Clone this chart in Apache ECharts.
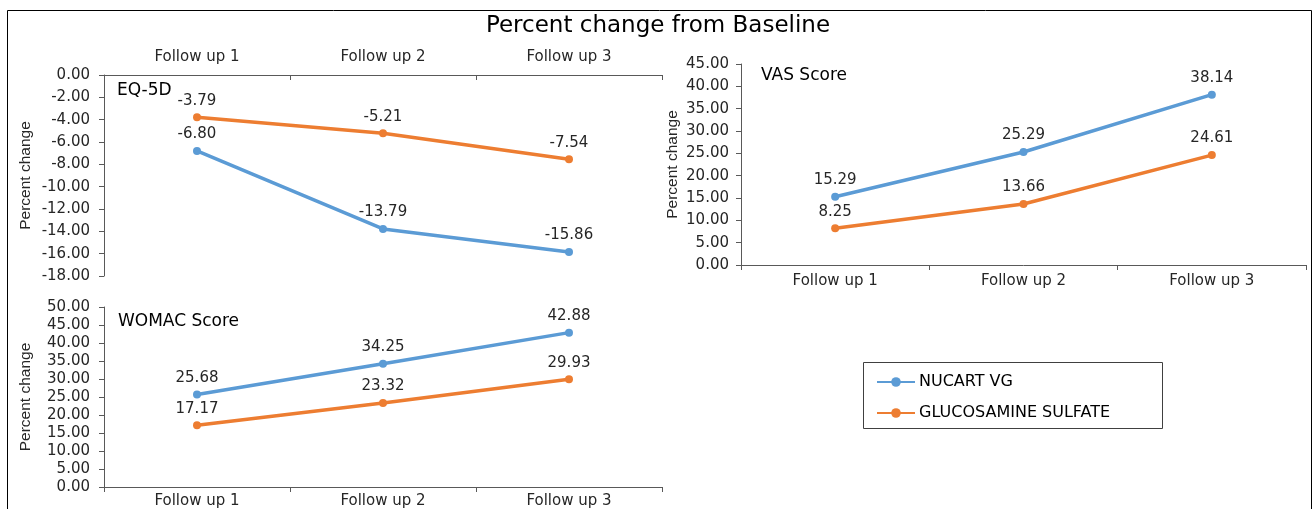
<!DOCTYPE html>
<html>
<head>
<meta charset="utf-8">
<script src="https://cdn.jsdelivr.net/npm/echarts@6/dist/echarts.min.js"></script>
<style>
html,body{margin:0;padding:0;background:#fff;}
#chart{width:1316px;height:509px;}
</style>
</head>
<body>
<div id="chart"></div>
<script>
const categories = ['Follow up 1', 'Follow up 2', 'Follow up 3'];
const seriesNames = ['NUCART VG', 'GLUCOSAMINE SULFATE'];
const eqNucart = [-6.80, -13.79, -15.86];
const eqGluco = [-3.79, -5.21, -7.54];
const vasNucart = [15.29, 25.29, 38.14];
const vasGluco = [8.25, 13.66, 24.61];
const womacNucart = [25.68, 34.25, 42.88];
const womacGluco = [17.17, 23.32, 29.93];
const panelTitles = ['EQ-5D', 'VAS Score', 'WOMAC Score'];
const mainTitle = 'Percent change from Baseline';
const yName = 'Percent change';

const BLUE = '#5B9BD5', ORANGE = '#ED7D31';
const TXT = '#262626';
const AX = '#595959';
const FONT = '"DejaVu Sans", sans-serif';

function xAx(gridIndex, pos, inside, margin) {
  return {
    type: 'category', gridIndex: gridIndex, data: categories, position: pos,
    boundaryGap: true,
    axisLine: { onZero: false, lineStyle: { color: AX, width: 1 } },
    axisTick: { show: true, inside: inside, length: 5, alignWithLabel: false, lineStyle: { color: AX } },
    axisLabel: { color: TXT, fontFamily: FONT, fontSize: 15, margin: margin },
    splitLine: { show: false }
  };
}
function yAx(gridIndex, min, max, interval, margin, gap) {
  return {
    type: 'value', gridIndex: gridIndex, min: min, max: max, interval: interval,
    name: yName, nameLocation: 'middle', nameGap: gap, nameRotate: 90,
    nameTextStyle: { color: TXT, fontFamily: '"Liberation Sans", Arial, sans-serif', fontSize: 15.5 },
    axisLine: { show: true, lineStyle: { color: AX, width: 1 } },
    axisTick: { show: true, length: 5, lineStyle: { color: AX } },
    axisLabel: { color: TXT, fontFamily: FONT, fontSize: 15, margin: margin,
      formatter: function (v) { return v.toFixed(2); } },
    splitLine: { show: false }
  };
}
function ser(name, data, color, idx) {
  return {
    name: name, type: 'line', data: data, xAxisIndex: idx, yAxisIndex: idx,
    symbol: 'circle', symbolSize: 8,
    lineStyle: { color: color, width: 3.5 },
    itemStyle: { color: color },
    label: { show: true, position: 'top', distance: 5, color: TXT, fontFamily: FONT, fontSize: 15,
      formatter: function (p) { return p.value.toFixed(2); } },
    emphasis: { disabled: true },
    animation: false
  };
}

const chart = echarts.init(document.getElementById('chart'));
chart.setOption({
  backgroundColor: '#fff',
  animation: false,
  title: [
    { text: mainTitle, left: 'center', top: 10, textStyle: { fontFamily: FONT, fontSize: 23, fontWeight: 'normal', color: '#000' } },
    { text: panelTitles[0], left: 112, top: 77, textStyle: { fontFamily: FONT, fontSize: 17, fontWeight: 'normal', color: '#000' } },
    { text: panelTitles[1], left: 756, top: 62, textStyle: { fontFamily: FONT, fontSize: 17, fontWeight: 'normal', color: '#000' } },
    { text: panelTitles[2], left: 113, top: 308, textStyle: { fontFamily: FONT, fontSize: 17, fontWeight: 'normal', color: '#000' } }
  ],
  legend: {
    data: seriesNames, orient: 'vertical', left: 876, top: 374, padding: 0,
    itemWidth: 38, itemHeight: 12, itemGap: 15,
    textStyle: { color: '#000', fontFamily: FONT, fontSize: 16, padding: [0, 0, 0, -1] }
  },
  grid: [
    { left: 104, top: 75, width: 558, height: 201 },
    { left: 741, top: 64, width: 565, height: 201 },
    { left: 104, top: 307, width: 558, height: 180 }
  ],
  xAxis: [xAx(0, 'top', true, 10), xAx(1, 'bottom', false, 9), xAx(2, 'bottom', false, 7)],
  yAxis: [yAx(0, -18, 0, 2, 14, 70), yAx(1, 0, 45, 5, 12, 60), yAx(2, 0, 50, 5, 14, 70)],
  series: [
    ser(seriesNames[0], eqNucart, BLUE, 0),
    ser(seriesNames[1], eqGluco, ORANGE, 0),
    ser(seriesNames[0], vasNucart, BLUE, 1),
    ser(seriesNames[1], vasGluco, ORANGE, 1),
    ser(seriesNames[0], womacNucart, BLUE, 2),
    ser(seriesNames[1], womacGluco, ORANGE, 2)
  ],
  graphic: [
    { type: 'rect', shape: { x: 7.5, y: 10.5, width: 1304, height: 520 }, style: { fill: null, stroke: '#000', lineWidth: 1 }, silent: true },
    { type: 'rect', shape: { x: 863.5, y: 362.5, width: 299, height: 66 }, style: { fill: null, stroke: '#404040', lineWidth: 1 }, silent: true }
  ]
});
</script>
</body>
</html>
